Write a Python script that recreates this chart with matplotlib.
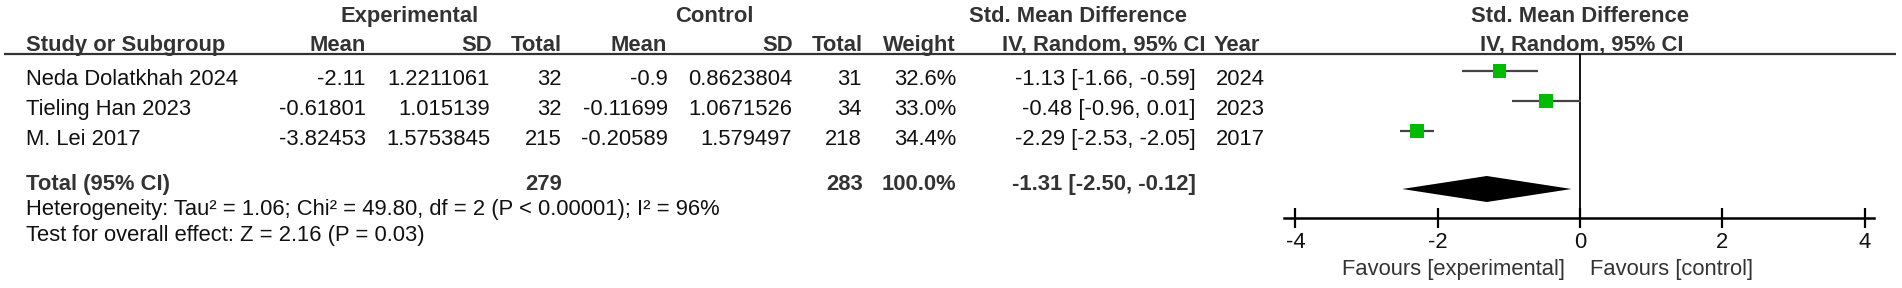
import matplotlib
matplotlib.use("Agg")
import matplotlib.pyplot as plt

# ── data ────────────────────────────────────────────────────────────────
studies = ["Neda Dolatkhah 2024", "Tieling Han 2023", "M. Lei 2017"]
exp_mean = [-2.11, -0.61801, -3.82453]
exp_sd = [1.2211061, 1.015139, 1.5753845]
exp_n = [32, 32, 215]
ctrl_mean = [-0.9, -0.11699, -0.20589]
ctrl_sd = [0.8623804, 1.0671526, 1.579497]
ctrl_n = [31, 34, 218]
weight = [32.6, 33.0, 34.4]
smd = [-1.13, -0.48, -2.29]
ci_lo = [-1.66, -0.96, -2.53]
ci_hi = [-0.59, 0.01, -2.05]
years = [2024, 2023, 2017]

tot_exp_n = 279
tot_ctrl_n = 283
tot_weight = 100.0
tot_smd, tot_lo, tot_hi = -1.31, -2.50, -0.12

heterogeneity = "Heterogeneity: Tau\u00b2 = 1.06; Chi\u00b2 = 49.80, df = 2 (P < 0.00001); I\u00b2 = 96%"
overall = "Test for overall effect: Z = 2.16 (P = 0.03)"
xticks = [-4, -2, 0, 2, 4]

# ── layout (pixels) ─────────────────────────────────────────────────────
W, H = 1902, 288
FS = 15.8
HEAD = "#333333"
TXT = "#111111"
GREEN = "#00bb00"
row_y = [71, 101, 131]      # marker centres
total_y = 189
base_off = 14               # text baseline below marker centre
line_y = 53.5
axis_y = 218
x0, x1 = 1284, 1874         # forest axis extent
xlim = (-4.16, 4.13)

plt.rcParams['font.family'] = ['Liberation Sans', 'DejaVu Sans']

fig = plt.figure(figsize=(W / 100, H / 100), dpi=100)
ax = fig.add_axes([0, 0, 1, 1])
ax.set_xlim(0, W); ax.set_ylim(H, 0); ax.axis('off')

def t(x, y, s, ha='right', bold=False, color=TXT):
    ax.text(x, y, s, ha=ha, va='baseline', fontsize=FS,
            fontweight='bold' if bold else 'normal', color=color)

# header rows
t(410, 22, "Experimental", ha='center', bold=True, color=HEAD)
t(714, 22, "Control", ha='center', bold=True, color=HEAD)
t(1078, 22, "Std. Mean Difference", ha='center', bold=True, color=HEAD)
hb = 51
t(26, hb, "Study or Subgroup", ha='left', bold=True, color=HEAD)
t(366, hb, "Mean", bold=True, color=HEAD)
t(492, hb, "SD", bold=True, color=HEAD)
t(562, hb, "Total", bold=True, color=HEAD)
t(667, hb, "Mean", bold=True, color=HEAD)
t(793, hb, "SD", bold=True, color=HEAD)
t(863, hb, "Total", bold=True, color=HEAD)
t(956, hb, "Weight", bold=True, color=HEAD)
t(1205, hb, "IV, Random, 95% CI", bold=True, color=HEAD)
t(1214, hb, "Year", ha='left', bold=True, color=HEAD)
ax.plot([4, 1896], [line_y, line_y], color=HEAD, lw=1.6, solid_capstyle='butt')

# study rows
for i, name in enumerate(studies):
    y = row_y[i] + base_off
    t(26, y, name, ha='left')
    t(366, y, str(exp_mean[i]))
    t(490, y, str(exp_sd[i]))
    t(562, y, str(exp_n[i]))
    t(668, y, str(ctrl_mean[i]))
    t(792, y, str(ctrl_sd[i]))
    t(862, y, str(ctrl_n[i]))
    t(956, y, f"{weight[i]:.1f}%")
    t(1196, y, f"{smd[i]:.2f} [{ci_lo[i]:.2f}, {ci_hi[i]:.2f}]")
    t(1216, y, str(years[i]), ha='left')

# total row and summary lines
ty = 190
t(26, ty, "Total (95% CI)", ha='left', bold=True, color=HEAD)
t(562, ty, str(tot_exp_n), bold=True, color=HEAD)
t(863, ty, str(tot_ctrl_n), bold=True, color=HEAD)
t(956, ty, f"{tot_weight:.1f}%", bold=True, color=HEAD)
t(1196, ty, f"{tot_smd:.2f} [{tot_lo:.2f}, {tot_hi:.2f}]", bold=True, color=HEAD)
t(26, 215, heterogeneity, ha='left', color=TXT)
t(26, 241, overall, ha='left', color=TXT)

# ── forest plot ─────────────────────────────────────────────────────────
fax = fig.add_axes([x0 / W, (H - axis_y) / H, (x1 - x0) / W, (axis_y - line_y) / H])
fax.set_xlim(*xlim)
fax.set_ylim(axis_y, line_y)
fax.patch.set_alpha(0)
for s in ['top', 'left', 'right']:
    fax.spines[s].set_visible(False)
fax.spines['bottom'].set_linewidth(1.8)
fax.set_yticks([])
fax.set_xticks(xticks)
fax.set_xticklabels([str(v) for v in xticks], fontsize=FS, color=TXT)
fax.tick_params(axis='x', direction='inout', length=14, width=1.6, pad=3)

fax.axvline(0, color='black', lw=1.3)
fax.hlines(row_y, ci_lo, ci_hi, color='#444444', lw=1.6)
fax.scatter(smd, row_y, marker='s', s=[w * 2.85 for w in weight],
            color=GREEN, zorder=3, linewidths=0)
fax.fill([tot_lo, tot_smd, tot_hi, tot_smd],
         [total_y, total_y - 13, total_y, total_y + 13],
         color='black', lw=0)

t(1565, 275, "Favours [experimental]", color=HEAD)
t(1590, 275, "Favours [control]", ha='left', color=HEAD)
t(1580, 22, "Std. Mean Difference", ha='center', bold=True, color=HEAD)
t(1582, hb, "IV, Random, 95% CI", ha='center', bold=True, color=HEAD)

fig.savefig("out.png", dpi=100)
